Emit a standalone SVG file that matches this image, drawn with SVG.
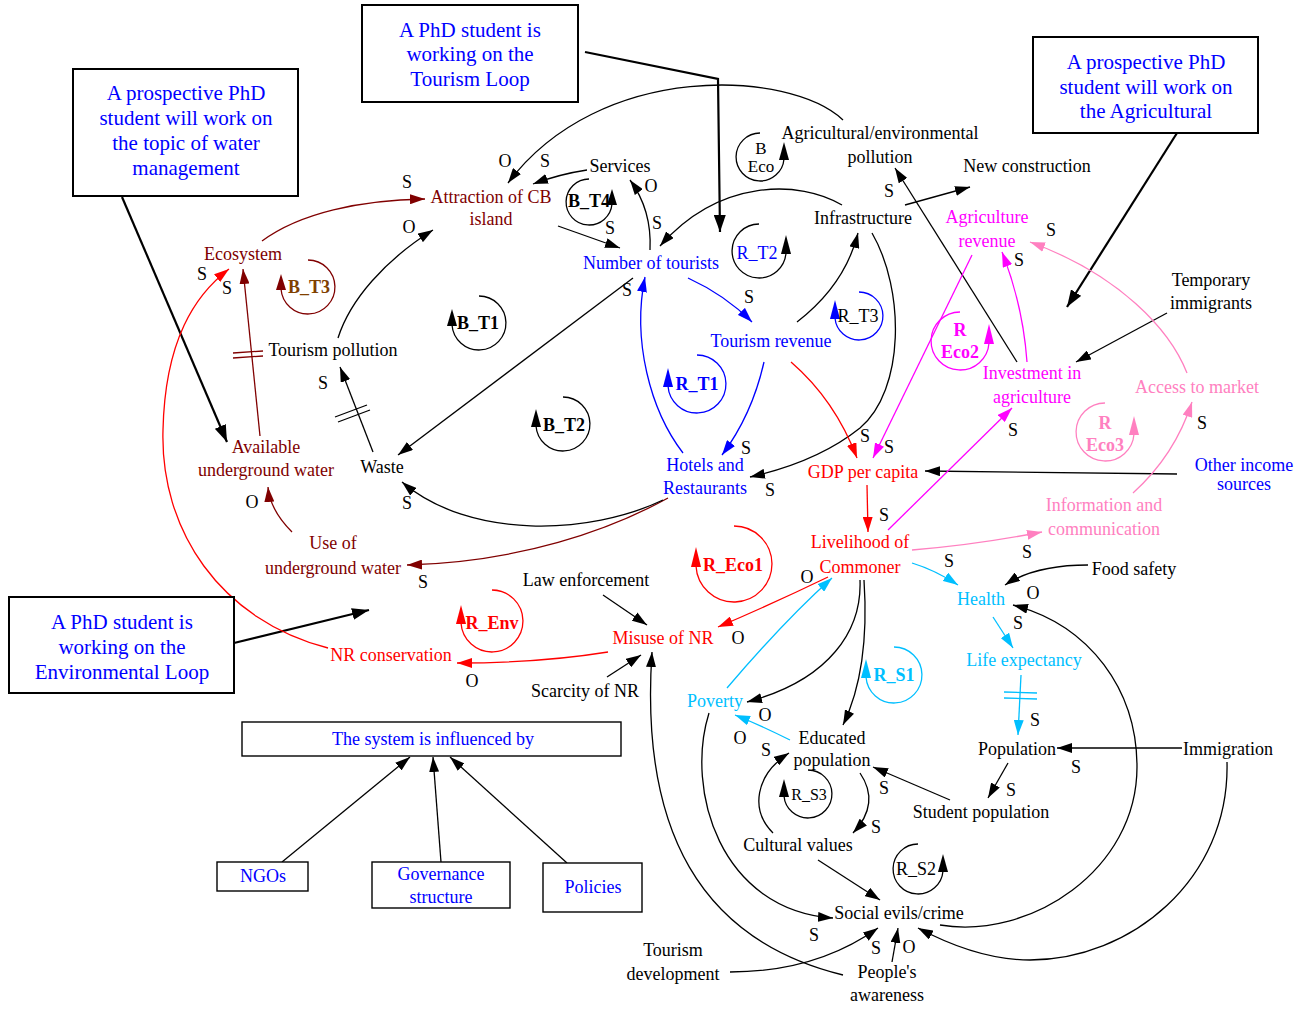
<svg xmlns="http://www.w3.org/2000/svg" width="1304" height="1010" viewBox="0 0 1304 1010">
<style>
text{font-family:"Liberation Serif","Times New Roman",serif;font-size:18px;text-anchor:middle}
.bx{font-size:21px;fill:#0000FF}
.k{fill:#000}.b{fill:#0000FF}.d{fill:#800000}.r{fill:#FF0000}.m{fill:#FF00FF}.p{fill:#FF80C0}.c{fill:#00BFFF}
.bold{font-weight:bold}
.box{fill:#fff;stroke:#000;stroke-width:2}
.sbox{fill:#fff;stroke:#000;stroke-width:1.4}
path.e{fill:none;stroke-width:1.3}
.ek{stroke:#000;marker-end:url(#ak)}
.eb{stroke:#0000FF;marker-end:url(#ab)}
.ed{stroke:#800000;marker-end:url(#ad)}
.er{stroke:#FF0000;marker-end:url(#ar)}
.em{stroke:#FF00FF;marker-end:url(#am)}
.ep{stroke:#FF80C0;marker-end:url(#ap)}
.ec{stroke:#00BFFF;marker-end:url(#ac)}
.thick{fill:none;stroke:#000;stroke-width:2.2;marker-end:url(#akb)}
.loop{fill:none;stroke-width:1.3}
.hash{stroke-width:1.3;fill:none}
</style>
<defs>
<marker id="ak" viewBox="0 0 15 10" refX="15" refY="5" markerWidth="15" markerHeight="10" markerUnits="userSpaceOnUse" orient="auto"><path d="M0,0L15,5L0,10z" fill="#000"/></marker>
<marker id="akb" viewBox="0 0 17 12" refX="17" refY="6" markerWidth="17" markerHeight="12" markerUnits="userSpaceOnUse" orient="auto"><path d="M0,0L17,6L0,12z" fill="#000"/></marker>
<marker id="ab" viewBox="0 0 15 10" refX="15" refY="5" markerWidth="15" markerHeight="10" markerUnits="userSpaceOnUse" orient="auto"><path d="M0,0L15,5L0,10z" fill="#0000FF"/></marker>
<marker id="ad" viewBox="0 0 15 10" refX="15" refY="5" markerWidth="15" markerHeight="10" markerUnits="userSpaceOnUse" orient="auto"><path d="M0,0L15,5L0,10z" fill="#800000"/></marker>
<marker id="ar" viewBox="0 0 15 10" refX="15" refY="5" markerWidth="15" markerHeight="10" markerUnits="userSpaceOnUse" orient="auto"><path d="M0,0L15,5L0,10z" fill="#FF0000"/></marker>
<marker id="am" viewBox="0 0 15 10" refX="15" refY="5" markerWidth="15" markerHeight="10" markerUnits="userSpaceOnUse" orient="auto"><path d="M0,0L15,5L0,10z" fill="#FF00FF"/></marker>
<marker id="ap" viewBox="0 0 15 10" refX="15" refY="5" markerWidth="15" markerHeight="10" markerUnits="userSpaceOnUse" orient="auto"><path d="M0,0L15,5L0,10z" fill="#FF80C0"/></marker>
<marker id="ac" viewBox="0 0 15 10" refX="15" refY="5" markerWidth="15" markerHeight="10" markerUnits="userSpaceOnUse" orient="auto"><path d="M0,0L15,5L0,10z" fill="#00BFFF"/></marker>
</defs>
<rect width="1304" height="1010" fill="#fff"/>

<g id="connectors">
<!-- box arrows -->
<path class="thick" d="M122,197 L227,442"/>
<path class="thick" d="M585,52 L718,79 L720,232"/>
<path class="thick" d="M1177,133 L1067,307"/>
<path class="thick" d="M234,643 L369,610"/>
<!-- influence arrows -->
<path class="e ek" d="M282,862 L410,757"/>
<path class="e ek" d="M441,862 L433,757"/>
<path class="e ek" d="M567,863 L450,757"/>
<!-- dark red -->
<path class="e ed" d="M262,241 C300,213 360,200 425,199"/>
<path class="e ed" d="M260,436 L243,269"/>
<path class="e ed" d="M292,532 Q270,510 268,487"/>
<path class="e ed" d="M668,498 C610,530 520,562 407,565"/>
<!-- black -->
<path class="e ek" d="M338,338 C350,300 385,260 433,230"/>
<path class="e ek" d="M843,120 C790,70 600,60 508,183"/>
<path class="e ek" d="M587,170 Q560,174 533,184"/>
<path class="e ek" d="M558,226 L620,248"/>
<path class="e ek" d="M650,250 Q652,210 630,180"/>
<path class="e ek" d="M842,205 C800,180 720,178 660,246"/>
<path class="e ek" d="M633,278 L398,455"/>
<path class="e ek" d="M797,322 Q845,285 858,233"/>
<path class="e ek" d="M905,205 L970,187"/>
<path class="e ek" d="M872,233 C905,290 905,390 860,428 C830,452 790,468 750,477"/>
<path class="e ek" d="M1017,362 L895,168"/>
<path class="e ek" d="M1177,474 L925,471"/>
<path class="e ek" d="M1167,313 L1076,362"/>
<path class="e ek" d="M1088,565 Q1035,565 1005,585"/>
<path class="e ek" d="M1182,748 L1057,748"/>
<path class="e ek" d="M1008,763 L988,798"/>
<path class="e ek" d="M950,800 L873,767"/>
<path class="e ek" d="M860,773 C875,795 870,815 853,833"/>
<path class="e ek" d="M773,833 C750,810 755,775 789,753"/>
<path class="e ek" d="M818,860 L880,900"/>
<path class="e ek" d="M860,580 C862,630 830,680 747,702"/>
<path class="e ek" d="M864,580 C868,640 860,690 843,725"/>
<path class="e ek" d="M709,713 C685,790 720,910 833,918"/>
<path class="e ek" d="M843,975 C700,940 640,830 652,652"/>
<path class="e ek" d="M603,595 L647,625"/>
<path class="e ek" d="M607,677 L641,655"/>
<path class="e ek" d="M663,500 C590,535 470,540 402,482"/>
<path class="e ek" d="M373,452 L340,367"/>
<path class="e ek" d="M730,972 C790,972 840,955 878,928"/>
<path class="e ek" d="M892,962 L898,928"/>
<path class="e ek" d="M1227,762 C1230,880 1130,960 1030,960 C990,960 950,945 918,928"/>
<path class="e ek" d="M940,925 C1030,940 1137,870 1137,767 C1137,690 1090,625 1013,605"/>
<!-- blue -->
<path class="e eb" d="M688,278 Q725,295 752,322"/>
<path class="e eb" d="M683,453 C650,410 632,340 645,277"/>
<path class="e eb" d="M764,362 Q752,415 722,455"/>
<!-- red -->
<path class="e er" d="M791,362 Q835,400 857,458"/>
<path class="e er" d="M867,485 L868,532"/>
<path class="e er" d="M828,577 Q770,605 718,627"/>
<path class="e er" d="M608,652 Q540,663 457,663"/>
<path class="e er" d="M328,648 C220,620 160,530 163,430 C165,340 195,295 229,269"/>
<!-- magenta -->
<path class="e em" d="M972,255 L873,458"/>
<path class="e em" d="M888,530 L1012,408"/>
<path class="e em" d="M1027,362 C1024,320 1015,285 1002,252"/>
<!-- pink -->
<path class="e ep" d="M1187,373 C1170,330 1120,275 1030,242"/>
<path class="e ep" d="M1133,493 Q1175,455 1192,402"/>
<path class="e ep" d="M912,550 Q975,545 1042,532"/>
<!-- cyan -->
<path class="e ec" d="M912,563 Q935,570 958,585"/>
<path class="e ec" d="M993,617 L1013,648"/>
<path class="e ec" d="M1021,675 L1018,735"/>
<path class="e ec" d="M727,688 Q785,620 832,578"/>
<path class="e ec" d="M790,740 Q760,725 735,715"/>
<!-- delay marks -->
<path class="hash" stroke="#800000" d="M233,353 L263,351 M233,358 L263,356"/>
<path class="hash" stroke="#000" d="M335,417 L367,405 M338,422 L370,410"/>
<path class="hash" stroke="#00BFFF" d="M1004,692 L1037,693 M1004,698 L1037,699"/>
</g>

<g id="polarity-labels" class="k">
<text x="407" y="188">S</text><text x="409" y="233">O</text><text x="505" y="167">O</text><text x="545" y="167">S</text>
<text x="651" y="192">O</text><text x="610" y="234">S</text><text x="657" y="229">S</text><text x="627" y="296">S</text>
<text x="749" y="303">S</text><text x="889" y="197">S</text><text x="1051" y="236">S</text><text x="1019" y="266">S</text>
<text x="746" y="454">S</text><text x="770" y="496">S</text><text x="865" y="442">S</text><text x="889" y="453">S</text>
<text x="884" y="521">S</text><text x="1013" y="436">S</text><text x="1202" y="429">S</text><text x="1027" y="558">S</text>
<text x="949" y="567">S</text><text x="807" y="583">O</text><text x="738" y="644">O</text><text x="1033" y="599">O</text>
<text x="1018" y="629">S</text><text x="1035" y="726">S</text><text x="1076" y="773">S</text><text x="1011" y="796">S</text>
<text x="884" y="794">S</text><text x="876" y="833">S</text><text x="766" y="756">S</text><text x="765" y="721">O</text>
<text x="740" y="744">O</text><text x="814" y="941">S</text><text x="876" y="954">S</text><text x="909" y="953">O</text>
<text x="423" y="588">S</text><text x="472" y="687">O</text><text x="407" y="509">S</text><text x="323" y="389">S</text>
<text x="252" y="508">O</text><text x="202" y="280">S</text><text x="227" y="294">S</text>
</g>

<g id="box-water"><rect class="box" x="73" y="69" width="225" height="127"/>
<text class="bx" x="186" y="100">A prospective PhD</text><text class="bx" x="186" y="125">student will work on</text><text class="bx" x="186" y="150">the topic of water</text><text class="bx" x="186" y="175">management</text></g>
<g id="box-tourism"><rect class="box" x="362" y="5" width="216" height="97"/>
<text class="bx" x="470" y="37">A PhD student is</text><text class="bx" x="470" y="61">working on the</text><text class="bx" x="470" y="86">Tourism Loop</text></g>
<g id="box-agri"><rect class="box" x="1033" y="37" width="225" height="96"/>
<text class="bx" x="1146" y="69">A prospective PhD</text><text class="bx" x="1146" y="94">student will work on</text><text class="bx" x="1146" y="118">the Agricultural</text></g>
<g id="box-env"><rect class="box" x="9" y="597" width="225" height="96"/>
<text class="bx" x="122" y="629">A PhD student is</text><text class="bx" x="122" y="654">working on the</text><text class="bx" x="122" y="679">Environmental Loop</text></g>
<g id="box-system"><rect class="sbox" x="242" y="722" width="379" height="34"/><text class="b" x="332" y="745" style="text-anchor:start">The system is influenced by</text></g>
<g id="box-ngos"><rect class="sbox" x="217" y="862" width="91" height="29"/><text class="b" x="263" y="882">NGOs</text></g>
<g id="box-governance"><rect class="sbox" x="372" y="862" width="138" height="46"/><text class="b" x="441" y="880">Governance</text><text class="b" x="441" y="903">structure</text></g>
<g id="box-policies"><rect class="sbox" x="543" y="863" width="99" height="49"/><text class="b" x="593" y="893">Policies</text></g>

<g id="n-attraction"><text class="d" x="491" y="203">Attraction of CB</text><text class="d" x="491" y="225">island</text></g>
<g id="n-services"><text class="k" x="620" y="172">Services</text></g>
<g id="n-ecosystem"><text class="d" x="243" y="260">Ecosystem</text></g>
<g id="n-tourism-pollution"><text class="k" x="333" y="356">Tourism pollution</text></g>
<g id="n-number-tourists"><text class="b" x="651" y="269">Number of tourists</text></g>
<g id="n-tourism-revenue"><text class="b" x="771" y="347">Tourism revenue</text></g>
<g id="n-ag-pollution"><text class="k" x="880" y="139">Agricultural/environmental</text><text class="k" x="880" y="163">pollution</text></g>
<g id="n-new-construction"><text class="k" x="1027" y="172">New construction</text></g>
<g id="n-infrastructure"><text class="k" x="863" y="224">Infrastructure</text></g>
<g id="n-ag-revenue"><text class="m" x="987" y="223">Agriculture</text><text class="m" x="987" y="247">revenue</text></g>
<g id="n-temporary"><text class="k" x="1211" y="286">Temporary</text><text class="k" x="1211" y="309">immigrants</text></g>
<g id="n-investment"><text class="m" x="1032" y="379">Investment in</text><text class="m" x="1032" y="403">agriculture</text></g>
<g id="n-access"><text class="p" x="1197" y="393">Access to market</text></g>
<g id="n-other-income"><text class="b" x="1244" y="471">Other income</text><text class="b" x="1244" y="490">sources</text></g>
<g id="n-information"><text class="p" x="1104" y="511">Information and</text><text class="p" x="1104" y="535">communication</text></g>
<g id="n-gdp"><text class="r" x="863" y="478">GDP per capita</text></g>
<g id="n-hotels"><text class="b" x="705" y="471">Hotels and</text><text class="b" x="705" y="494">Restaurants</text></g>
<g id="n-waste"><text class="k" x="382" y="473">Waste</text></g>
<g id="n-available-water"><text class="d" x="266" y="453">Available</text><text class="d" x="266" y="476">underground water</text></g>
<g id="n-use-water"><text class="d" x="333" y="549">Use of</text><text class="d" x="333" y="574">underground water</text></g>
<g id="n-livelihood"><text class="r" x="860" y="548">Livelihood of</text><text class="r" x="860" y="573">Commoner</text></g>
<g id="n-law"><text class="k" x="586" y="586">Law enforcement</text></g>
<g id="n-misuse"><text class="r" x="663" y="644">Misuse of NR</text></g>
<g id="n-nr-conservation"><text class="r" x="391" y="661">NR conservation</text></g>
<g id="n-scarcity"><text class="k" x="585" y="697">Scarcity of NR</text></g>
<g id="n-food"><text class="k" x="1134" y="575">Food safety</text></g>
<g id="n-health"><text class="c" x="981" y="605">Health</text></g>
<g id="n-life"><text class="c" x="1024" y="666">Life expectancy</text></g>
<g id="n-poverty"><text class="c" x="715" y="707">Poverty</text></g>
<g id="n-educated"><text class="k" x="832" y="744">Educated</text><text class="k" x="832" y="766">population</text></g>
<g id="n-population"><text class="k" x="1017" y="755">Population</text></g>
<g id="n-immigration"><text class="k" x="1228" y="755">Immigration</text></g>
<g id="n-student"><text class="k" x="981" y="818">Student population</text></g>
<g id="n-cultural"><text class="k" x="798" y="851">Cultural values</text></g>
<g id="n-social"><text class="k" x="899" y="919">Social evils/crime</text></g>
<g id="n-tourism-dev"><text class="k" x="673" y="956">Tourism</text><text class="k" x="673" y="980">development</text></g>
<g id="n-awareness"><text class="k" x="887" y="978">People's</text><text class="k" x="887" y="1001">awareness</text></g>

<g id="loop-B_T4"><path class="loop" stroke="#000" d="M589,179 A23,23 0 1 0 612,204"/><polygon points="607,205 617,205 612,189" fill="#000"/><text class="k bold" x="589" y="207">B_T4</text></g>
<g id="loop-B_Eco"><path class="loop" stroke="#000" d="M760,133 A24,24 0 1 0 784,159"/><polygon points="779,160 789,160 784,142" fill="#000"/><text class="k" style="font-size:17px" x="761" y="154">B</text><text class="k" style="font-size:17px" x="761" y="172">Eco</text></g>
<g id="loop-R_T2"><path class="loop" stroke="#000" d="M759,224 A27,27 0 1 0 786,253"/><polygon points="781,254 791,254 786,235" fill="#000"/><text class="b" x="757" y="259">R_T2</text></g>
<g id="loop-R_T3"><path class="loop" stroke="#0000FF" d="M859,292 A24,24 0 1 1 835,318"/><polygon points="830,319 840,319 835,300" fill="#0000FF"/><text class="k" x="858" y="322">R_T3</text></g>
<g id="loop-B_T3"><path class="loop" stroke="#800000" d="M308,260 A27,27 0 1 1 281,289"/><polygon points="276,290 286,290 281,274" fill="#800000"/><text class="bold" fill="#804000" x="309" y="293">B_T3</text></g>
<g id="loop-B_T1"><path class="loop" stroke="#000" d="M479,296 A27,27 0 1 1 452,325"/><polygon points="447,326 457,326 452,309" fill="#000"/><text class="k bold" x="478" y="329">B_T1</text></g>
<g id="loop-B_T2"><path class="loop" stroke="#000" d="M563,397 A27,27 0 1 1 536,426"/><polygon points="531,427 541,427 536,409" fill="#000"/><text class="k bold" x="564" y="431">B_T2</text></g>
<g id="loop-R_T1"><path class="loop" stroke="#0000FF" d="M697,355 A29,29 0 1 1 668,386"/><polygon points="663,387 673,387 668,368" fill="#0000FF"/><text class="b bold" x="697" y="390">R_T1</text></g>
<g id="loop-R_Eco2"><path class="loop" stroke="#FF00FF" d="M960,312 A29,29 0 1 0 989,343"/><polygon points="984,344 994,344 989,324" fill="#FF00FF"/><text class="m bold" x="960" y="336">R</text><text class="m bold" x="960" y="358">Eco2</text></g>
<g id="loop-R_Eco3"><path class="loop" stroke="#FF80C0" d="M1105,403 A29,29 0 1 0 1134,434"/><polygon points="1129,435 1139,435 1134,416" fill="#FF80C0"/><text class="p bold" x="1105" y="429">R</text><text class="p bold" x="1105" y="451">Eco3</text></g>
<g id="loop-R_Eco1"><path class="loop" stroke="#FF0000" d="M734,526 A38,38 0 1 1 696,566"/><polygon points="691,567 701,567 696,547" fill="#FF0000"/><text class="r bold" x="733" y="571">R_Eco1</text></g>
<g id="loop-R_Env"><path class="loop" stroke="#FF0000" d="M492,590 A31,31 0 1 1 461,623"/><polygon points="456,624 466,624 461,605" fill="#FF0000"/><text class="r bold" x="492" y="629">R_Env</text></g>
<g id="loop-R_S1"><path class="loop" stroke="#00BFFF" d="M894,647 A28,28 0 1 1 866,677"/><polygon points="861,678 871,678 866,659" fill="#00BFFF"/><text class="c bold" x="894" y="681">R_S1</text></g>
<g id="loop-R_S3"><path class="loop" stroke="#000" d="M808,770 A24,24 0 1 1 784,796"/><polygon points="779,797 789,797 784,779" fill="#000"/><text class="k" style="font-size:16px" x="809" y="800">R_S3</text></g>
<g id="loop-R_S2"><path class="loop" stroke="#000" d="M918,844 A25,25 0 1 0 943,871"/><polygon points="938,872 948,872 943,854" fill="#000"/><text class="k" x="916" y="875">R_S2</text></g>
</svg>
